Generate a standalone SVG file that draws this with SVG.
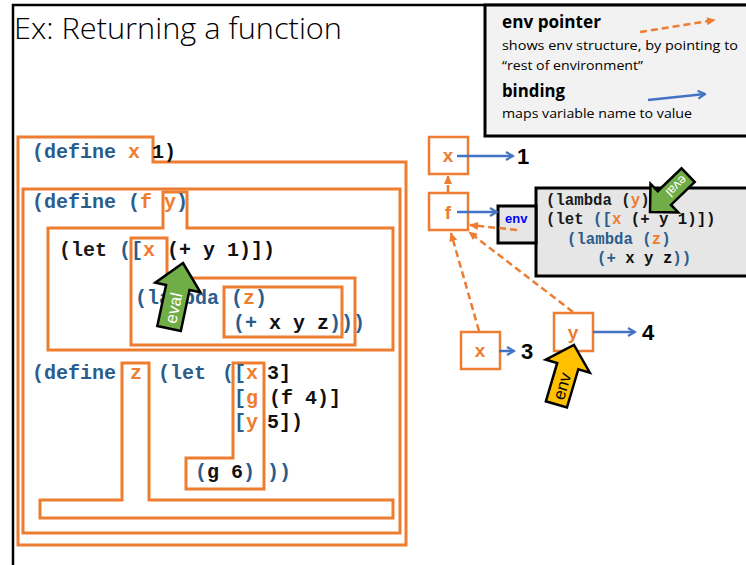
<svg xmlns="http://www.w3.org/2000/svg" width="746" height="565" viewBox="0 0 746 565">
  <defs>
    <marker id="blueHead" viewBox="0 0 10 10" refX="8.5" refY="5" markerWidth="10" markerHeight="10" markerUnits="userSpaceOnUse" orient="auto">
      <path d="M1.5,1 L8.5,5 L1.5,9" fill="none" stroke="#4472c4" stroke-width="2.2" stroke-linejoin="miter"/>
    </marker>
    <marker id="orangeHead" viewBox="0 0 10 10" refX="9" refY="5" markerWidth="9" markerHeight="9" markerUnits="userSpaceOnUse" orient="auto">
      <path d="M0,0.5 L10,5 L0,9.5 Z" fill="#ed7d31"/>
    </marker>
    <style>
      .frame { fill: none; stroke: #000; stroke-width: 2.5; }
      .scope { fill: none; stroke: #ed7d31; stroke-width: 3; stroke-linejoin: miter; }
      .code { font-family: "Liberation Mono", "DejaVu Sans Mono", monospace; font-weight: bold; font-size: 20px; fill: #111; white-space: pre; }
      .small { font-size: 15.7px; }
      .kw { fill: #2a5d8c; }
      .var { fill: #ed7d31; }
      .dk { fill: #1a1a1a; }
      .cell { fill: #fff; stroke: #ed7d31; stroke-width: 2.5; }
      .cellname { font-family: "Liberation Sans", Arial, sans-serif; font-weight: bold; font-size: 19px; fill: #ed7d31; text-anchor: middle; }
      .val { font-family: "Liberation Sans", Arial, sans-serif; font-weight: bold; font-size: 22px; fill: #000; }
      .bind { fill: none; stroke: #4472c4; stroke-width: 2.5; marker-end: url(#blueHead); }
      .envptr { fill: none; stroke: #ed7d31; stroke-width: 2.5; stroke-dasharray: 7 4; marker-end: url(#orangeHead); }
      .closure { fill: #e7e6e6; stroke: #000; stroke-width: 3; }
      .blk { stroke: #000; stroke-width: 2.5; stroke-linejoin: miter; }
      .lbl { font-family: "Liberation Sans", Arial, sans-serif; text-anchor: middle; }
      .legend { font-family: "Open Sans", "Liberation Sans", sans-serif; fill: #000; }
    </style>
  </defs>

  <rect width="746" height="565" fill="#fff"/>

  <!-- slide frame and title -->
  <path class="frame" d="M13,565 V5 H746"/>
  <text x="14" y="39" font-family="Open Sans, Liberation Sans, sans-serif" font-weight="300" font-size="30" fill="#000" textLength="328" lengthAdjust="spacingAndGlyphs">Ex: Returning a function</text>

  <!-- legend -->
  <g id="legend">
    <rect x="485" y="5" width="270" height="131" fill="#f2f2f2" stroke="#000" stroke-width="3"/>
    <text class="legend" x="502" y="28" font-size="17" font-weight="bold" textLength="99" lengthAdjust="spacingAndGlyphs">env pointer</text>
    <text class="legend" x="502" y="50" font-size="13" textLength="236" lengthAdjust="spacingAndGlyphs">shows  env  structure,  by pointing   to</text>
    <text class="legend" x="502" y="70" font-size="13" textLength="141" lengthAdjust="spacingAndGlyphs">“rest of environment”</text>
    <text class="legend" x="502" y="97" font-size="17" font-weight="bold" textLength="63" lengthAdjust="spacingAndGlyphs">binding</text>
    <text class="legend" x="502" y="118" font-size="13" textLength="190" lengthAdjust="spacingAndGlyphs">maps variable name to value</text>
    <line class="envptr" x1="640" y1="32" x2="715" y2="20"/>
    <line class="bind" x1="648" y1="100" x2="705" y2="94"/>
  </g>

  <!-- scope regions of the program -->
  <g id="scopes">
    <path id="scope-define-x" class="scope" d="M18,137 H153 V162 H406 V545 H18 Z"/>
    <rect id="scope-define-f" class="scope" x="23" y="189" width="377" height="344"/>
    <path id="scope-let-x" class="scope" d="M48,228 H163 V192 H187 V228 H393 V350 H48 Z"/>
    <path id="scope-lambda" class="scope" d="M131,238 H167 V278 H355 V345 H131 Z"/>
    <rect id="scope-lambda-z" class="scope" x="224" y="287" width="118" height="50"/>
    <path id="scope-define-z" class="scope" d="M122,363 H149 V500 H393 V518 H40 V500 H122 Z"/>
    <path id="scope-let-xgy" class="scope" d="M233,363 H264 V489 H186 V458 H233 Z"/>
  </g>

  <!-- program text -->
  <g id="program" class="code">
    <text x="32" y="158"><tspan class="kw">(define </tspan><tspan class="var">x</tspan><tspan> 1)</tspan></text>
    <text x="32" y="208"><tspan class="kw">(define (</tspan><tspan class="var">f</tspan><tspan> </tspan><tspan class="var">y</tspan><tspan class="kw">)</tspan></text>
    <text x="59" y="256"><tspan class="dk">(let </tspan><tspan class="kw">([</tspan><tspan class="var">x</tspan><tspan> (+ y 1)])</tspan></text>
    <text x="135" y="304"><tspan class="kw">(lambda </tspan><tspan class="kw">(</tspan><tspan class="var">z</tspan><tspan class="kw">)</tspan></text>
    <text x="233" y="329"><tspan class="kw">(+</tspan><tspan> x y z</tspan><tspan class="kw">)))</tspan></text>
    <text y="379"><tspan x="32" class="kw">(define</tspan><tspan x="130" class="var">z</tspan><tspan x="158" class="kw">(let</tspan><tspan x="222" class="kw">([</tspan><tspan x="246" class="var">x</tspan><tspan x="267">3]</tspan></text>
    <text y="404"><tspan x="234" class="kw">[</tspan><tspan x="246" class="var">g</tspan><tspan x="269">(f 4)]</tspan></text>
    <text y="428"><tspan x="234" class="kw">[</tspan><tspan x="246" class="var">y</tspan><tspan x="267">5])</tspan></text>
    <text y="478"><tspan x="195" class="kw">(</tspan><tspan>g 6</tspan><tspan class="kw">)</tspan><tspan x="267" class="kw">))</tspan></text>
  </g>

  <!-- eval marker over the lambda -->
  <g id="eval-left" transform="translate(183,263) rotate(12)">
    <path class="blk" d="M0,0 L23,25 L12,25 L12,67 L-12,67 L-12,25 L-23,25 Z" fill="#70ad47"/>
    <text class="lbl" transform="translate(0,46) rotate(-90)" y="6" font-size="17" fill="#fff">eval</text>
  </g>

  <!-- environment frames -->
  <g id="frame-x1">
    <rect class="cell" x="429" y="137" width="39" height="37"/>
    <text class="cellname" x="448" y="162">x</text>
    <text class="val" x="517" y="164">1</text>
  </g>
  <g id="frame-f">
    <rect class="cell" x="429" y="193" width="39" height="37"/>
    <text class="cellname" x="448" y="219">f</text>
  </g>
  <g id="frame-x3">
    <rect class="cell" x="461" y="332" width="39" height="37"/>
    <text class="cellname" x="480" y="357">x</text>
    <text class="val" x="521" y="359">3</text>
  </g>
  <g id="frame-y4">
    <rect class="cell" x="554" y="313" width="39" height="38"/>
    <text class="cellname" x="573" y="339">y</text>
    <text class="val" x="642" y="340">4</text>
  </g>

  <!-- closure: env part and code part -->
  <g id="closure">
    <rect class="closure" x="536" y="188" width="215" height="88"/>
    <rect class="closure" x="498" y="206" width="38" height="37"/>
    <text x="505" y="223" font-family="Liberation Sans, Arial, sans-serif" font-weight="bold" font-size="13" fill="#0000ff">env</text>
    <g class="code small">
      <text x="546" y="205"><tspan class="dk">(lambda (</tspan><tspan class="var">y</tspan><tspan class="dk">)</tspan></text>
      <text x="546" y="224"><tspan class="dk">(let </tspan><tspan class="kw">([</tspan><tspan class="var">x</tspan><tspan> (+ y 1)])</tspan></text>
      <text x="567" y="244"><tspan class="kw">(lambda (</tspan><tspan class="var">z</tspan><tspan class="kw">)</tspan></text>
      <text x="597" y="263"><tspan class="kw">(+</tspan><tspan> x y z</tspan><tspan class="kw">))</tspan></text>
    </g>
  </g>

  <!-- connectors -->
  <g id="connectors">
    <line class="bind" x1="457" y1="156" x2="513" y2="156"/>
    <line class="bind" x1="457" y1="212" x2="497" y2="212"/>
    <line class="bind" x1="499" y1="351" x2="514" y2="351"/>
    <line class="bind" x1="593" y1="332" x2="635" y2="332"/>
    <line class="envptr" x1="448" y1="192" x2="448" y2="176"/>
    <line class="envptr" x1="517" y1="230" x2="470" y2="225"/>
    <line class="envptr" x1="479" y1="331" x2="451" y2="233"/>
    <line class="envptr" x1="573" y1="312" x2="469" y2="232"/>
  </g>

  <!-- eval marker on the closure body -->
  <g id="eval-right" transform="translate(650,212) rotate(-134)">
    <path class="blk" d="M0,0 L20,20 L9.5,20 L9.5,53 L-9.5,53 L-9.5,20 L-20,20 Z" fill="#70ad47"/>
    <text class="lbl" transform="translate(0,37) rotate(-90)" y="4.5" font-size="13" fill="#fff">eval</text>
  </g>

  <!-- env marker pointing at y -->
  <g id="env-marker" transform="translate(574,345) rotate(16.5)">
    <path class="blk" d="M0,0 L23,22 L11,22 L11,62 L-11,62 L-11,22 L-23,22 Z" fill="#ffc000"/>
    <text class="lbl" transform="translate(0,43) rotate(-90)" y="6" font-size="17" fill="#000">env</text>
  </g>
</svg>
